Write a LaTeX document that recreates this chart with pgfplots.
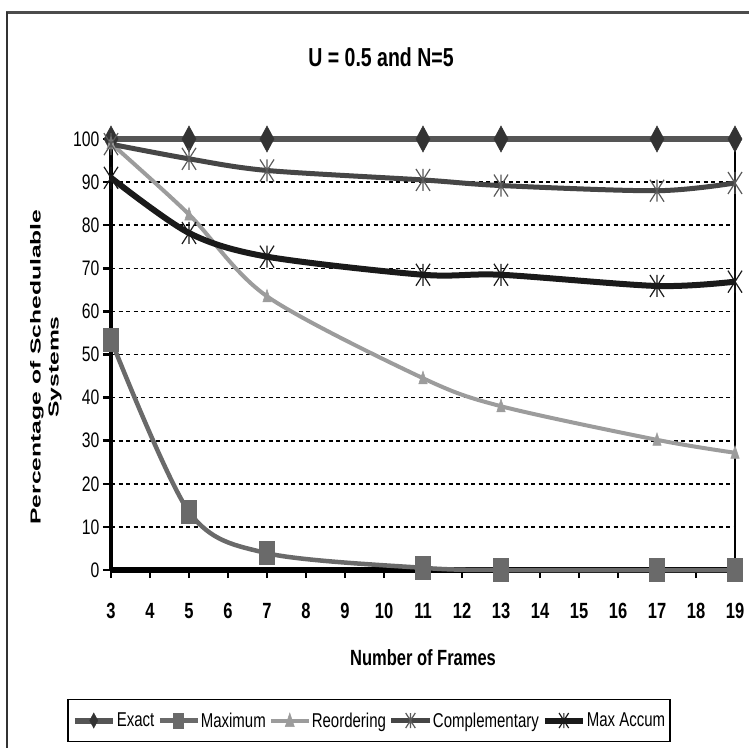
\documentclass[border=0pt]{standalone}
\usepackage{pgfplots}
\usepackage{pgfplotstable}
\pgfplotsset{compat=1.18}
\usepackage{fontspec}
\setmainfont{Liberation Sans}
\newfontfamily\narrow{Liberation Sans}[FakeStretch=0.75]
\newfontfamily\widef{Liberation Sans}[FakeStretch=1.7]

\definecolor{cExact}{HTML}{555555}
\definecolor{cExactM}{HTML}{333333}
\definecolor{cMax}{HTML}{6A6A6A}
\definecolor{cReo}{HTML}{9C9C9C}
\definecolor{cComp}{HTML}{464646}
\definecolor{cCompM}{HTML}{5A5A5A}
\definecolor{cAcc}{HTML}{1A1A1A}

\pgfdeclareplotmark{tdiamond}{%
 \pgfpathmoveto{\pgfqpoint{0pt}{\pgfplotmarksize}}%
 \pgfpathlineto{\pgfqpoint{0.54\pgfplotmarksize}{0pt}}%
 \pgfpathlineto{\pgfqpoint{0pt}{-\pgfplotmarksize}}%
 \pgfpathlineto{\pgfqpoint{-0.54\pgfplotmarksize}{0pt}}%
 \pgfpathclose
 \pgfusepathqfillstroke}
\pgfdeclareplotmark{tsquare}{%
 \pgfpathrectanglecorners{\pgfqpoint{-0.65\pgfplotmarksize}{-\pgfplotmarksize}}{\pgfqpoint{0.65\pgfplotmarksize}{\pgfplotmarksize}}%
 \pgfusepathqfillstroke}
\pgfdeclareplotmark{ttri}{%
 \pgfpathmoveto{\pgfqpoint{0pt}{\pgfplotmarksize}}%
 \pgfpathlineto{\pgfqpoint{0.6\pgfplotmarksize}{-0.8\pgfplotmarksize}}%
 \pgfpathlineto{\pgfqpoint{-0.6\pgfplotmarksize}{-0.8\pgfplotmarksize}}%
 \pgfpathclose
 \pgfusepathqfillstroke}
\pgfdeclareplotmark{tstar}{%
 \pgfpathmoveto{\pgfqpoint{0pt}{-\pgfplotmarksize}}%
 \pgfpathlineto{\pgfqpoint{0pt}{\pgfplotmarksize}}%
 \pgfpathmoveto{\pgfqpoint{-0.64\pgfplotmarksize}{-\pgfplotmarksize}}%
 \pgfpathlineto{\pgfqpoint{0.64\pgfplotmarksize}{\pgfplotmarksize}}%
 \pgfpathmoveto{\pgfqpoint{-0.64\pgfplotmarksize}{\pgfplotmarksize}}%
 \pgfpathlineto{\pgfqpoint{0.64\pgfplotmarksize}{-\pgfplotmarksize}}%
 \pgfusepathqstroke}

\pgfplotstableread{
x exact max reo comp acc
3 100 53.4 99 98.8 91
5 100 13.5 82.5 95.4 78.2
7 100 3.9 63.5 92.7 72.7
11 100 0.5 44.5 90.5 68.5
13 100 0 38 89.2 68.5
17 100 0 30.2 88 65.9
19 100 0 27.2 89.8 66.9
}\data

\begin{document}
\begin{tikzpicture}[x=1pt,y=1pt]
\draw[line width=3pt, color=black!70] (6,-12) -- (760,-12);
\draw[line width=2pt, color=black!80] (7,-12) -- (7,-760);
\node[font=\narrow\bfseries\fontsize{26}{26}\selectfont] at (381,-57) {U = 0.5 and N=5};
\node[font=\narrow\bfseries\fontsize{22}{22}\selectfont] at (423,-658) {Number of Frames};
\node[rotate=90, align=center, font=\widef\bfseries\fontsize{14.5}{18}\selectfont] at (46,-367) {Percentage of Schedulable\\Systems};
\begin{axis}[
  at={(111pt,-570pt)}, anchor=south west, scale only axis,
  width=624pt, height=431pt,
  xmin=3, xmax=19, ymin=0, ymax=100, clip=false,
  xtick={3,4,...,19}, ytick={0,10,...,100},
  axis x line*=bottom, axis y line*=left,
  x axis line style={-, line width=6pt, black},
  y axis line style={-, line width=4.5pt, black},
  tick align=outside, major tick length=8pt,
  tick style={black, line width=2.5pt},
  ymajorgrids, major grid style={black, line width=1.6pt, dash pattern=on 4pt off 3.5pt},
  /pgf/number format/assume math mode=true,
  yticklabel style={font=\narrow\fontsize{21}{21}\selectfont},
  xticklabel style={font=\narrow\bfseries\fontsize{22}{22}\selectfont, yshift=-22pt},
  legend columns=5,
  legend cell align=left,
  legend style={at={(-0.0705,-0.3492)}, anchor=west, draw=black, line width=1.5pt,
    font=\narrow\fontsize{20}{20}\selectfont, inner xsep=4pt, inner ysep=11pt,
    nodes={inner xsep=1pt},
    /tikz/every even column/.append style={column sep=2pt}},
  legend image code/.code={\draw[mark repeat=2,mark phase=2,#1] plot coordinates {(0pt,0pt) (19pt,0pt) (38pt,0pt)};},
  legend image post style={mark size=7.5},
]
\draw[black, line width=1.2pt] (axis cs:19,0) -- (axis cs:19,100);
\addplot[color=cExact, line width=6pt, mark=tdiamond, mark size=13,
  mark options={solid, line width=0.5pt, draw=cExactM, fill=cExactM}]
  table[x=x, y=exact] {\data};
\addlegendentry{Exact}
\addplot[color=cMax, line width=4.5pt, smooth, mark=tsquare, mark size=11.5,
  mark options={solid, line width=0.5pt, draw=cMax, fill=cMax}]
  table[x=x, y=max] {\data};
\addlegendentry{Maximum}
\addplot[color=cReo, line width=4pt, smooth, mark=ttri, mark size=7,
  mark options={solid, line width=0.5pt, draw=cReo, fill=cReo}]
  table[x=x, y=reo] {\data};
\addlegendentry{Reordering}
\addplot[color=cComp, line width=5pt, smooth, mark=tstar, mark size=11,
  mark options={solid, line width=1.2pt, draw=cCompM}]
  table[x=x, y=comp] {\data};
\addlegendentry{Complementary}
\addplot[color=cAcc, line width=6pt, smooth, mark=tstar, mark size=11,
  mark options={solid, line width=1.2pt, draw=cAcc}]
  table[x=x, y=acc] {\data};
\addlegendentry{Max Accum}
\end{axis}
\pgfresetboundingbox
\path[use as bounding box] (0,0) rectangle (749,-747);
\end{tikzpicture}
\end{document}
